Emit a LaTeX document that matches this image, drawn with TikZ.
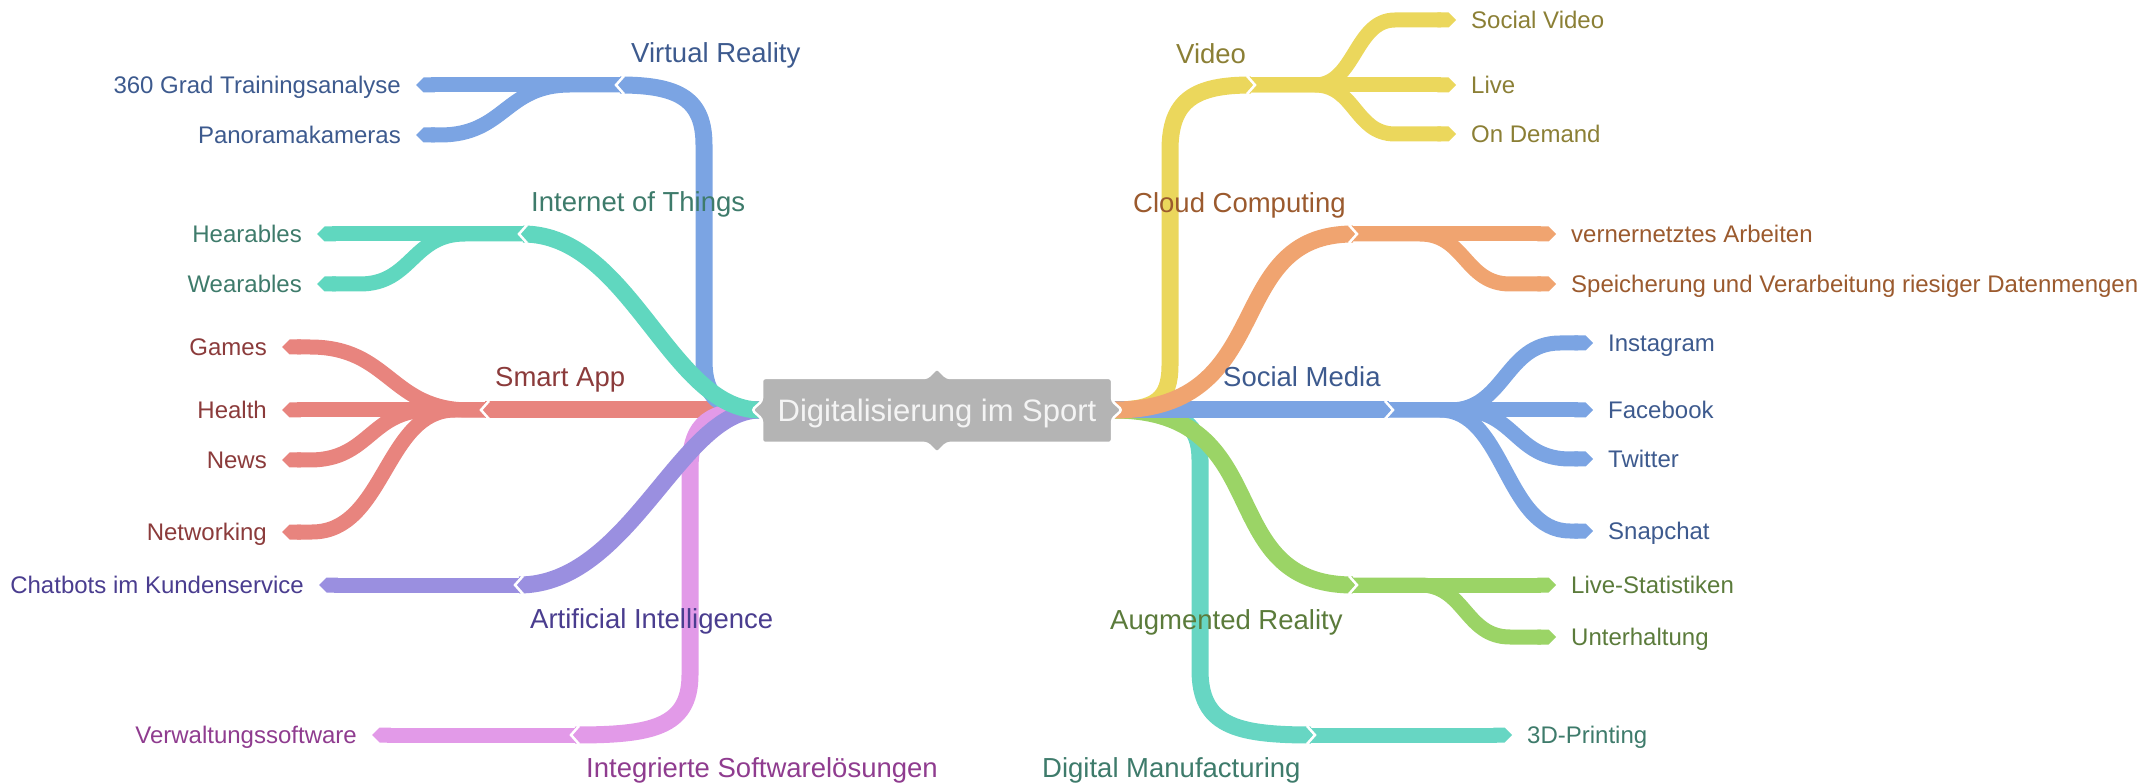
\documentclass[tikz,border=0pt]{standalone}
\usepackage{fontspec}
\setmainfont{Liberation Sans}
\usetikzlibrary{arrows.meta}

\definecolor{hubgray}{HTML}{B4B4B4}
\definecolor{hubtxt}{HTML}{F4F4F4}
\definecolor{bluerib}{HTML}{7BA4E3}
\definecolor{bluetxt}{HTML}{3D5A8E}
\definecolor{tealrib}{HTML}{60D7BF}
\definecolor{tealtxt}{HTML}{3E7B6B}
\definecolor{dmrib}{HTML}{67D6C3}
\definecolor{redrib}{HTML}{E8847E}
\definecolor{redtxt}{HTML}{8B3B3B}
\definecolor{purprib}{HTML}{9A8FE0}
\definecolor{purptxt}{HTML}{4A3D8F}
\definecolor{pinkrib}{HTML}{E29AE8}
\definecolor{pinktxt}{HTML}{8F3C8F}
\definecolor{yelrib}{HTML}{EBD75C}
\definecolor{yeltxt}{HTML}{8B7F35}
\definecolor{orrib}{HTML}{F0A470}
\definecolor{ortxt}{HTML}{9B5A2E}
\definecolor{grnrib}{HTML}{9BD466}
\definecolor{grntxt}{HTML}{5B7B3B}

\tikzset{
  branch/.style={line width=17pt},
  leaf/.style={line width=15pt, -{Triangle Cap}},
  notch/.style={draw=white, line width=2.5pt},
  leaflbl/.style={font=\fontsize{24}{28}\selectfont, inner sep=0pt, text height=17pt, text depth=0pt},
  mainlbl/.style={font=\fontsize{27.5}{32}\selectfont, inner sep=0pt, text height=19.7pt, text depth=0pt, anchor=west},
}

\begin{document}
\begin{tikzpicture}[x=1pt, y=-1pt]
  \useasboundingbox (0,0) rectangle (2156,783);

  % leaf labels, left
  \node[leaflbl, text=bluetxt, anchor=east] (grad) at (401,85) {360 Grad Trainingsanalyse};
  \node[leaflbl, text=bluetxt, anchor=east] (pano) at (401,135) {Panoramakameras};
  \node[leaflbl, text=tealtxt, anchor=east] (hear) at (302,234) {Hearables};
  \node[leaflbl, text=tealtxt, anchor=east] (wear) at (302,284) {Wearables};
  \node[leaflbl, text=redtxt, anchor=east] (games) at (267,347) {Games};
  \node[leaflbl, text=redtxt, anchor=east] (health) at (267,410) {Health};
  \node[leaflbl, text=redtxt, anchor=east] (news) at (267,460) {News};
  \node[leaflbl, text=redtxt, anchor=east] (netw) at (267,532) {Networking};
  \node[leaflbl, text=purptxt, anchor=east] (chat) at (304,585) {Chatbots im Kundenservice};
  \node[leaflbl, text=pinktxt, anchor=east] (verw) at (357,735) {Verwaltungssoftware};

  % leaf labels, right
  \node[leaflbl, text=yeltxt, anchor=west] (socvid) at (1471,20) {Social Video};
  \node[leaflbl, text=yeltxt, anchor=west] (live) at (1471,85) {Live};
  \node[leaflbl, text=yeltxt, anchor=west] (ondem) at (1471,134) {On Demand};
  \node[leaflbl, text=ortxt, anchor=west] (vern) at (1571,234) {vernernetztes Arbeiten};
  \node[leaflbl, text=ortxt, anchor=west] (speich) at (1571,284) {Speicherung und Verarbeitung riesiger Datenmengen};
  \node[leaflbl, text=bluetxt, anchor=west] (insta) at (1608,343) {Instagram};
  \node[leaflbl, text=bluetxt, anchor=west] (fb) at (1608,410) {Facebook};
  \node[leaflbl, text=bluetxt, anchor=west] (tw) at (1608,459) {Twitter};
  \node[leaflbl, text=bluetxt, anchor=west] (snap) at (1608,531) {Snapchat};
  \node[leaflbl, text=grntxt, anchor=west] (lstat) at (1571,585) {Live-Statistiken};
  \node[leaflbl, text=grntxt, anchor=west] (unterh) at (1571,637) {Unterhaltung};
  \node[leaflbl, text=tealtxt, anchor=west] (print) at (1527,735) {3D-Printing};

  % joints
  \coordinate (hubL) at (760,410);
  \coordinate (hubR) at (1114,410);
  \coordinate (vr) at (620,85);
  \coordinate (iot) at (523,234);
  \coordinate (sa) at (485,410);
  \coordinate (ai) at (519,585);
  \coordinate (isl) at (575,735);
  \coordinate (vid) at (1251,85);
  \coordinate (cc) at (1353,234);
  \coordinate (sm) at (1389,410);
  \coordinate (ar) at (1353,585);
  \coordinate (dm) at (1311,735);

  % main branches, left
  \draw[branch, redrib] (hubL) -- (sa);
  \draw[branch, bluerib] (hubL) .. controls (720,410) and (704,398) .. (704,360) -- (704,145) .. controls (704,100) and (680,85) .. (vr);
  \draw[branch, pinkrib] (hubL) .. controls (712,410) and (690,420) .. (690,470) -- (690,675) .. controls (690,728) and (650,735) .. (isl);
  \draw[branch, purprib] (hubL) .. controls (680,410) and (630,585) .. (ai);
  \draw[branch, tealrib] (hubL) .. controls (670,410) and (630,234) .. (iot);

  % main branches, right
  \draw[branch, dmrib] (hubR) .. controls (1170,410) and (1200,415) .. (1200,460) -- (1200,670) .. controls (1200,725) and (1235,735) .. (dm);
  \draw[branch, grnrib] (hubR) .. controls (1280,410) and (1210,585) .. (ar);
  \draw[branch, yelrib] (hubR) .. controls (1155,410) and (1170,400) .. (1170,365) -- (1170,150) .. controls (1170,100) and (1195,85) .. (vid);
  \draw[branch, bluerib] (hubR) -- (sm);
  \draw[branch, orrib] (hubR) .. controls (1280,410) and (1220,234) .. (cc);

  % leaves, left
  \draw[leaf, bluerib] (vr) -- ([xshift=15pt]grad.east);
  \draw[leaf, bluerib] (vr) -- (570,85) .. controls (505,85) and (505,135) .. (440,135) -- ([xshift=15pt]pano.east);
  \draw[leaf, tealrib] (iot) -- ([xshift=15pt]hear.east);
  \draw[leaf, tealrib] (iot) -- (465,234) .. controls (412,234) and (412,284) .. (360,284) -- ([xshift=15pt]wear.east);
  \draw[leaf, redrib] (sa) -- ([xshift=15pt]health.east);
  \draw[leaf, redrib] (sa) -- (470,410) .. controls (390,410) and (390,347) .. (310,347) -- ([xshift=15pt]games.east);
  \draw[leaf, redrib] (sa) -- (430,410) .. controls (370,410) and (370,460) .. (310,460) -- ([xshift=15pt]news.east);
  \draw[leaf, redrib] (sa) -- (455,410) .. controls (385,410) and (385,532) .. (312,532) -- ([xshift=15pt]netw.east);
  \draw[leaf, purprib] (ai) -- ([xshift=15pt]chat.east);
  \draw[leaf, pinkrib] (isl) -- ([xshift=15pt]verw.east);

  % leaves, right
  \draw[leaf, yelrib] (vid) -- ([xshift=-15pt]live.west);
  \draw[leaf, yelrib] (vid) -- (1315,85) .. controls (1355,85) and (1355,20) .. (1395,20) -- ([xshift=-15pt]socvid.west);
  \draw[leaf, yelrib] (vid) -- (1315,85) .. controls (1355,85) and (1355,134) .. (1395,134) -- ([xshift=-15pt]ondem.west);
  \draw[leaf, orrib] (cc) -- ([xshift=-15pt]vern.west);
  \draw[leaf, orrib] (cc) -- (1420,234) .. controls (1465,234) and (1465,284) .. (1510,284) -- ([xshift=-15pt]speich.west);
  \draw[leaf, bluerib] (sm) -- ([xshift=-15pt]fb.west);
  \draw[leaf, bluerib] (sm) -- (1450,410) .. controls (1505,410) and (1505,343) .. (1560,343) -- ([xshift=-15pt]insta.west);
  \draw[leaf, bluerib] (sm) -- (1460,410) .. controls (1515,410) and (1515,459) .. (1570,459) -- ([xshift=-15pt]tw.west);
  \draw[leaf, bluerib] (sm) -- (1440,410) .. controls (1505,410) and (1505,531) .. (1570,531) -- ([xshift=-15pt]snap.west);
  \draw[leaf, grnrib] (ar) -- ([xshift=-15pt]lstat.west);
  \draw[leaf, grnrib] (ar) -- (1420,585) .. controls (1465,585) and (1465,637) .. (1510,637) -- ([xshift=-15pt]unterh.west);
  \draw[leaf, dmrib] (dm) -- ([xshift=-15pt]print.west);

  % notches
  \foreach \j in {vr,iot,sa,ai,isl}
    \draw[notch] (\j) ++(4,-9) -- ++(-8,9) -- ++(8,9);
  \foreach \j in {vid,cc,sm,ar,dm}
    \draw[notch] (\j) ++(-4,-9) -- ++(8,9) -- ++(-8,9);

  % hub
  \draw[fill=hubgray, draw=white, line width=2.5pt, rounded corners=3pt]
    (762,378) -- (927,378) -- (937,368) -- (947,378) -- (1112,378) -- (1112,401)
    -- (1122,410) -- (1112,419) -- (1112,443) -- (947,443) -- (937,453) -- (927,443)
    -- (762,443) -- (762,419) -- (752,410) -- (762,401) -- cycle;
  \node[font=\fontsize{31}{36}\selectfont, text=hubtxt, inner sep=0pt, text height=22.2pt, text depth=0pt] (hub) at (937,410) {Digitalisierung im Sport};

  % main labels
  \node[mainlbl, text=bluetxt] (vrlbl) at (631,52.5) {Virtual Reality};
  \node[mainlbl, text=tealtxt] (iotlbl) at (531,202) {Internet of Things};
  \node[mainlbl, text=redtxt] (salbl) at (495,377) {Smart App};
  \node[mainlbl, text=purptxt] (ailbl) at (530,619) {Artificial Intelligence};
  \node[mainlbl, text=pinktxt] (isllbl) at (586,768) {Integrierte Softwarelösungen};
  \node[mainlbl, text=yeltxt] (vidlbl) at (1176,53.5) {Video};
  \node[mainlbl, text=ortxt] (cclbl) at (1133,203) {Cloud Computing};
  \node[mainlbl, text=bluetxt] (smlbl) at (1223,376.5) {Social Media};
  \node[mainlbl, text=grntxt] (arlbl) at (1110,620) {Augmented Reality};
  \node[mainlbl, text=tealtxt] (dmlbl) at (1042,768) {Digital Manufacturing};
\end{tikzpicture}
\end{document}
